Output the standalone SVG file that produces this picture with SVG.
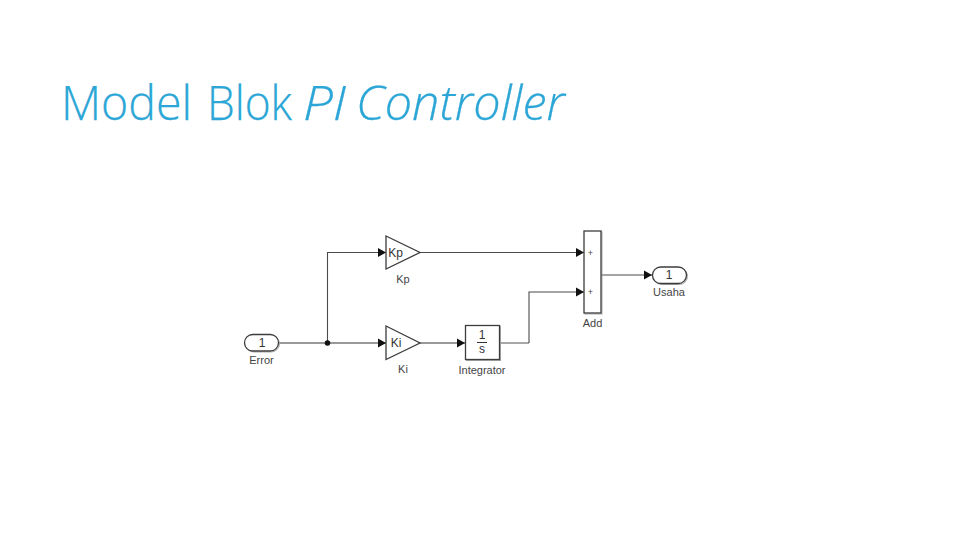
<svg xmlns="http://www.w3.org/2000/svg" width="960" height="540" viewBox="0 0 960 540">
<style>
.b{fill:#fff;stroke:#3c3c3c;stroke-width:1.300}
.s{fill:none;stroke:#aaa;stroke-width:1}
.w{fill:none;stroke:#4a4a4a;stroke-width:1.100}
.g{fill:none;stroke:#777;stroke-width:1.300}
.t{font-family:"Liberation Sans",Arial,sans-serif;font-size:11px;fill:#444;text-anchor:middle}
.i{font-size:12px;fill:#333}
.ti{font-family:"Open Sans",sans-serif;font-weight:300;font-size:48px;fill:#2ba6d6;stroke:#2ba6d6;stroke-width:.25}
.p{font-size:9px}
</style>
<defs>
<marker id="a" markerUnits="userSpaceOnUse" markerWidth="9" markerHeight="10" refX="8" refY="5" orient="auto"><path d="M0 .5L8 5L0 9.500Z" fill="#111"/></marker>
</defs>
<rect width="960" height="540" fill="#fff"/>
<g id="title">
<text class="ti" x="61" y="120" textLength="131" lengthAdjust="spacingAndGlyphs">Model</text>
<text class="ti" x="207" y="120" textLength="85" lengthAdjust="spacingAndGlyphs">Blok</text>
<text class="ti" x="303" y="120" textLength="43" lengthAdjust="spacingAndGlyphs" font-style="italic">PI</text>
<text class="ti" x="356" y="120" textLength="209" lengthAdjust="spacingAndGlyphs" font-style="italic">Controller</text>
</g>
<g id="connectors">
<path class="g" d="M279 343H386" marker-end="url(#a)"/>
<path class="w" d="M327.500 343V252.500H386" marker-end="url(#a)"/>
<path class="g" d="M420 343H465" marker-end="url(#a)"/>
<path class="w" d="M420 252.500H584" marker-end="url(#a)"/>
<path class="g" d="M499 343H529"/>
<path class="w" d="M529 343V292H584" marker-end="url(#a)"/>
<path class="w" d="M601 275H652" marker-end="url(#a)"/>
<circle cx="327.500" cy="343" r="2.800" fill="#111"/>
</g>
<g id="error"><rect class="s" x="245.500" y="335.500" width="34" height="16.500" rx="8.200"/><rect class="b" x="244.500" y="334.500" width="34" height="16.500" rx="8.200"/><text class="t i" x="262" y="347">1</text><text class="t" x="261.500" y="364">Error</text></g>
<g id="kp"><path class="b" d="M386 236L420 252.500L386 269Z"/><text class="t i" x="395.500" y="256.500">Kp</text><text class="t" x="403" y="283">Kp</text></g>
<g id="ki"><path class="b" d="M386 326L420 343L386 359.500Z"/><text class="t i" x="396" y="347">Ki</text><text class="t" x="403" y="373">Ki</text></g>
<g id="integrator"><rect class="s" x="466.500" y="326.500" width="34" height="34"/><rect class="b" x="465.500" y="325.500" width="34" height="34"/><text class="t i" x="482" y="339">1</text><path d="M477 342.500H487" stroke="#333" fill="none"/><text class="t i" x="482" y="353">s</text><text class="t" x="482" y="373.500">Integrator</text></g>
<g id="add"><rect class="s" x="585" y="232" width="17" height="82"/><rect class="b" x="584" y="231" width="17" height="82"/><text class="t p" x="590.500" y="256">+</text><text class="t p" x="590.500" y="295">+</text><text class="t" x="592.500" y="327">Add</text></g>
<g id="usaha"><rect class="s" x="653.500" y="268" width="34" height="16.500" rx="8.200"/><rect class="b" x="652.500" y="267" width="34" height="16.500" rx="8.200"/><text class="t i" x="669" y="279">1</text><text class="t" x="669" y="296">Usaha</text></g>
</svg>
